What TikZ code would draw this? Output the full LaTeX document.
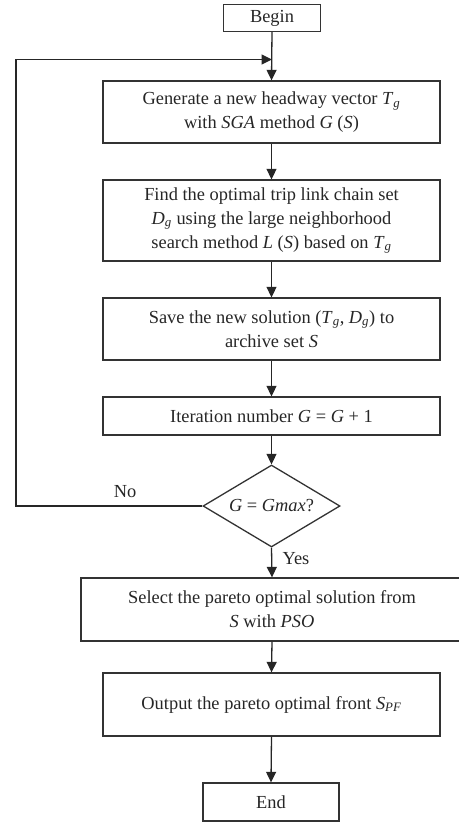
\documentclass[tikz,border=0pt]{standalone}
\usepackage{fontspec}
\setmainfont{Liberation Serif}
\usetikzlibrary{arrows.meta,shapes.geometric}
\newcommand\isub[1]{\textsubscript{\textit{#1}}}
\begin{document}
\begin{tikzpicture}[x=1pt,y=-1pt,
  every node/.style={font=\fontsize{18.4}{24}\selectfont, text=black!85},
  box/.style={draw=black!80, line width=1.3pt, align=center, inner sep=0pt, minimum width=337pt},
  arr/.style={draw=black!85, line width=1.3pt, -{Triangle[length=10.5pt,width=10pt]}},
  ln/.style={draw=black!85, line width=1.3pt}]
\useasboundingbox (0,0) rectangle (458,822);
\node[box, minimum width=97pt, minimum height=27pt] (begin) at (272,18) {Begin};
\node[box, minimum height=62pt] (gen) at (271.5,112) {Generate a new headway vector \textit{T}\isub{g}\\with \textit{SGA} method \textit{G} (\textit{S})};
\node[box, minimum height=81pt] (find) at (271.5,220.5) {Find the optimal trip link chain set\\\textit{D}\isub{g} using the large neighborhood\\search method \textit{L} (\textit{S}) based on \textit{T}\isub{g}};
\node[box, minimum height=62pt] (save) at (271.5,329) {Save the new solution (\textit{T}\isub{g}, \textit{D}\isub{g}) to\\archive set \textit{S}};
\node[box, minimum height=38pt] (iter) at (271.5,416) {Iteration number \textit{G} = \textit{G} + 1};
\node[draw=black!80, line width=1.3pt, shape=diamond, aspect=1.67, inner sep=0pt, minimum width=137pt, minimum height=82pt] (dec) at (271.5,506) {\textit{G} = \textit{Gmax}?};
\node[box, minimum width=382pt, minimum height=63pt] (sel) at (272,609.5) {Select the pareto optimal solution from\\\textit{S} with \textit{PSO}};
\node[box, minimum height=63pt] (out) at (271.5,704.5) {Output the pareto optimal front \textit{S}\isub{PF}};
\node[box, minimum width=136pt, minimum height=38pt] (end) at (271,802) {End};
\coordinate (j) at (272,59.5);
\coordinate (c1) at (16,506);
\coordinate (c2) at (16,59.5);
\draw[arr] (begin.south) -- (gen.north);
\draw[arr] (gen.south) -- (find.north);
\draw[arr] (find.south) -- (save.north);
\draw[arr] (save.south) -- (iter.north);
\draw[arr] (iter.south) -- (dec.north);
\draw[arr] (dec.south) -- (sel.north);
\draw[arr] (sel.south) -- (out.north);
\draw[arr] (out.south) -- (end.north);
\draw[arr] (dec.west) -- (c1) -- (c2) -- (j);
\node (no) at (125,492) {No};
\node (yes) at (296,559) {Yes};
\end{tikzpicture}
\end{document}
